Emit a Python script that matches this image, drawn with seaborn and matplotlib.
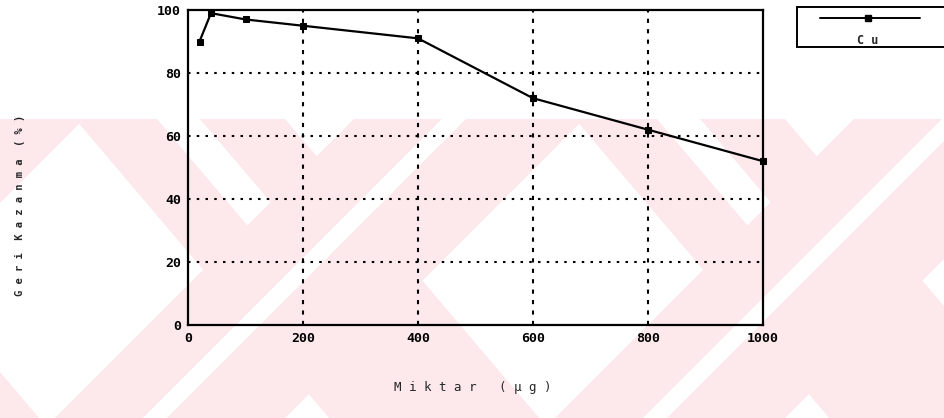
import matplotlib
matplotlib.use("Agg")
import matplotlib.pyplot as plt
import matplotlib.transforms as mtransforms
from matplotlib.patches import Polygon, Rectangle
from matplotlib.lines import Line2D
import seaborn as sns
import pandas as pd

# Recovery of Cu versus amount
amount_ug = [20, 40, 100, 200, 400, 600, 800, 1000]
recovery_pct = [90, 99, 97, 95, 91, 72, 62, 52]
x_ticks = [0, 200, 400, 600, 800, 1000]
y_ticks = [0, 20, 40, 60, 80, 100]
series_name = "Cu"

df = pd.DataFrame({"amount": amount_ug, "recovery": recovery_pct, "metal": series_name})

sns.set_theme(style="white")
plt.rcParams["font.family"] = ["DejaVu Sans Mono", "DejaVu Sans"]

W, H = 944, 418
fig = plt.figure(figsize=(W / 100, H / 100), dpi=100)
fig.patch.set_facecolor("white")

# pixel coordinates (y downward) -> figure
px = mtransforms.Affine2D().scale(1 / W, -1 / H).translate(0, 1) + fig.transFigure

# faint crossed-band background emblem
pink = "#fde8ec"
top, bot = 119, 418
drop = bot - top
k_down, k_up = 0.85, -1.0
period = 500


def poly(points, color, z):
    fig.add_artist(Polygon(points, closed=True, transform=px, facecolor=color,
                           edgecolor="none", zorder=z))


def band(x0, x1, k, color, z):
    s = k * drop
    poly([(x0, top), (x1, top), (x1 + s, bot), (x0 + s, bot)], color, z)


for i in (-1, 0, 1):
    o = i * period
    # "\" band with its light centre line that stops at the crossing
    band(75 + o, 285 + o, k_down, pink, -6)
    up_left_top = 55 + o + (-k_up) * drop  # top x of the "/" band's left edge
    t1 = (up_left_top - (157 + o)) / (k_down + 1)
    t2 = (up_left_top - (200 + o)) / (k_down + 1)
    poly([(157 + o, top), (200 + o, top),
          (200 + o + k_down * t2, top + t2), (157 + o + k_down * t1, top + t1)],
         "white", -5.5)
    # "/" band with its light centre line
    band(up_left_top, 285 + o + (-k_up) * drop, k_up, pink, -5)
    band(143 + o + (-k_up) * drop, 167 + o + (-k_up) * drop, k_up, "white", -4.5)

ax = fig.add_axes([188 / W, 1 - 325 / H, (763 - 188) / W, (325 - 10) / H])
ax.set_facecolor("none")

sns.lineplot(data=df, x="amount", y="recovery", ax=ax, color="black",
             linewidth=1.6, marker="s", markersize=5, markeredgecolor="black",
             markerfacecolor="black", legend=False, zorder=5, clip_on=False)

ax.set_xlim(0, 1000)
ax.set_ylim(0, 100)
ax.set_xticks(x_ticks)
ax.set_yticks(y_ticks)
ax.set_xticklabels([str(v) for v in x_ticks], fontsize=9.5, fontweight="bold")
ax.set_yticklabels([str(v) for v in y_ticks], fontsize=9.5, fontweight="bold")
ax.tick_params(axis="both", length=0, pad=5, colors="black")

for v in x_ticks[1:-1]:
    ax.axvline(v, color="black", linewidth=1.5, linestyle=(0, (2, 3)), zorder=2)
for v in y_ticks[1:-1]:
    ax.axhline(v, color="black", linewidth=1.5, linestyle=(0, (1.2, 3)), zorder=2)

for sp in ax.spines.values():
    sp.set_color("black")
    sp.set_linewidth(1.6)
    sp.set_visible(True)

ax.set_xlabel("")
ax.set_ylabel("")
fig.text(473 / W, 1 - 388 / H, "M i k t a r   ( µ g )", fontsize=9,
         ha="center", va="center")
fig.text(20 / W, 1 - 205 / H, "G e r i  K a z a n m a  ( % )", fontsize=7.5,
         ha="center", va="center", rotation=90, fontweight="bold")

# legend box with the sample line above the label
fig.add_artist(Rectangle((797, 7), 160, 40, transform=px, facecolor="white",
                         edgecolor="black", linewidth=1.4, zorder=3))
fig.add_artist(Line2D([820, 868, 920], [18, 18, 18], transform=px, color="black",
                      linewidth=1.4, marker="s", markersize=4, markevery=[1],
                      zorder=4))
fig.text(868 / W, 1 - 40 / H, "C u", fontsize=8.5, ha="center", va="center",
         fontweight="bold")

fig.savefig("out.png", dpi=100)
